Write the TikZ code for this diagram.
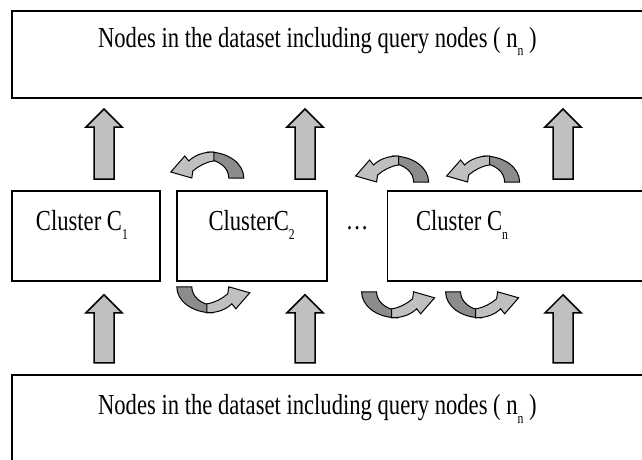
\documentclass[tikz,border=0pt]{standalone}
\usepackage{fontspec}
\setmainfont{Liberation Serif}[FakeStretch=0.78]
\usepackage{tikz}
\usetikzlibrary{positioning,calc}
\definecolor{clusdark}{HTML}{8C8C8C}
\definecolor{cluslight}{HTML}{C0C0C0}
\newcommand\subidx[1]{\raisebox{-0.3em}{\fontsize{15}{15}\selectfont #1}}
\newcommand\clusgap[1]{\rule{#1}{0pt}}
% fat upward arrow between two points (same column)
\newcommand\clusup[2]{\draw[clusarrow] let \p1=(#1), \p2=(#2) in
  (\x1-10pt,\y1) -- (\x1+10pt,\y1) -- (\x1+10pt,\y2-18pt) -- (\x1+18pt,\y2-18pt)
  -- (\x1,\y2) -- (\x1-18pt,\y2-18pt) -- (\x1-10pt,\y2-18pt) -- cycle;}
\tikzset{
  cluspicture/.style={x=1pt, y=1pt},
  clusbox/.style={draw, line width=1.8pt, inner sep=0pt, font=\fontsize{29}{34}\selectfont},
  clusnode/.style={clusbox, text height=40pt, text depth=50pt},
  clusdata/.style={clusbox, minimum width=670pt},
  clusarrow/.style={fill=cluslight, draw=black, line width=1.5pt, line join=miter},
  clusturn/.pic={
    \path[draw=black, line width=1pt, fill=clusdark] (0,0) -- (15,0)
      .. controls (15,-10) and (24,-17) .. (36,-19) -- (36,-26)
      .. controls (15,-26) and (0,-14) .. (0,0) -- cycle;
    \path[draw=black, line width=1pt, fill=cluslight] (30,-26)
      .. controls (42,-26) and (50,-22) .. (55,-17) -- (59,-22) -- (73,-6)
      -- (52,0) -- (51,-7) .. controls (45,-12) and (38,-16) .. (30,-17) -- cycle;
  }
}
\begin{document}
\begin{tikzpicture}[cluspicture]
\useasboundingbox (0,0) rectangle (642,459);
\clip (0,0) rectangle (642,459);
% clusters
\node[clusnode, anchor=north west, minimum width=148pt] (c1) at (11,269) {Cluster C\subidx{1}\clusgap{8pt}};
\node[clusnode, right=15pt of c1, minimum width=150pt] (c2) {ClusterC\subidx{2}};
\node[clusnode, right=59pt of c2, minimum width=300pt] (cn) {Cluster C\subidx{n}\clusgap{151pt}};
\node[anchor=base, font=\fontsize{29}{34}\selectfont] (dots) at ($($(c2.east)!0.5!(cn.west)$)+(0,6)$) {\dots};
% dataset boxes
\node[clusdata, above=91pt of c1.north west, anchor=south west, text height=36pt, text depth=51pt] (top) {Nodes in the dataset including query nodes ( n\subidx{n} )\clusgap{59pt}};
\node[clusdata, below=92pt of c1.south west, anchor=north west, text height=40pt, text depth=70pt] (bottom) {Nodes in the dataset including query nodes ( n\subidx{n} )\clusgap{59pt}};
% columns of the fat arrows
\coordinate (colA) at (104,0);
\coordinate (colB) at (305,0);
\coordinate (colC) at (563,0);
\clusup{$(c1.north -| colA)+(0,11)$}{$(top.south -| colA)+(0,-10)$}
\clusup{$(c2.north -| colB)+(0,11)$}{$(top.south -| colB)+(0,-10)$}
\clusup{$(cn.north -| colC)+(0,11)$}{$(top.south -| colC)+(0,-10)$}
\clusup{$(bottom.north -| colA)+(0,11)$}{$(c1.south -| colA)+(0,-13)$}
\clusup{$(bottom.north -| colB)+(0,11)$}{$(c2.south -| colB)+(0,-13)$}
\clusup{$(bottom.north -| colC)+(0,11)$}{$(cn.south -| colC)+(0,-13)$}
% exchange between clusters
\pic at ($(c2.south west)+(1,-5)$) {clusturn};
\pic at ($(c2.south east)+(34,-10)$) {clusturn};
\pic at ($(cn.south west)+(59,-10)$) {clusturn};
\pic[rotate=180] at ($(c2.north west)+(68,12)$) {clusturn};
\pic[rotate=180] at ($(c2.north east)+(101,8)$) {clusturn};
\pic[rotate=180] at ($(cn.north west)+(133,8)$) {clusturn};
\end{tikzpicture}
\end{document}
